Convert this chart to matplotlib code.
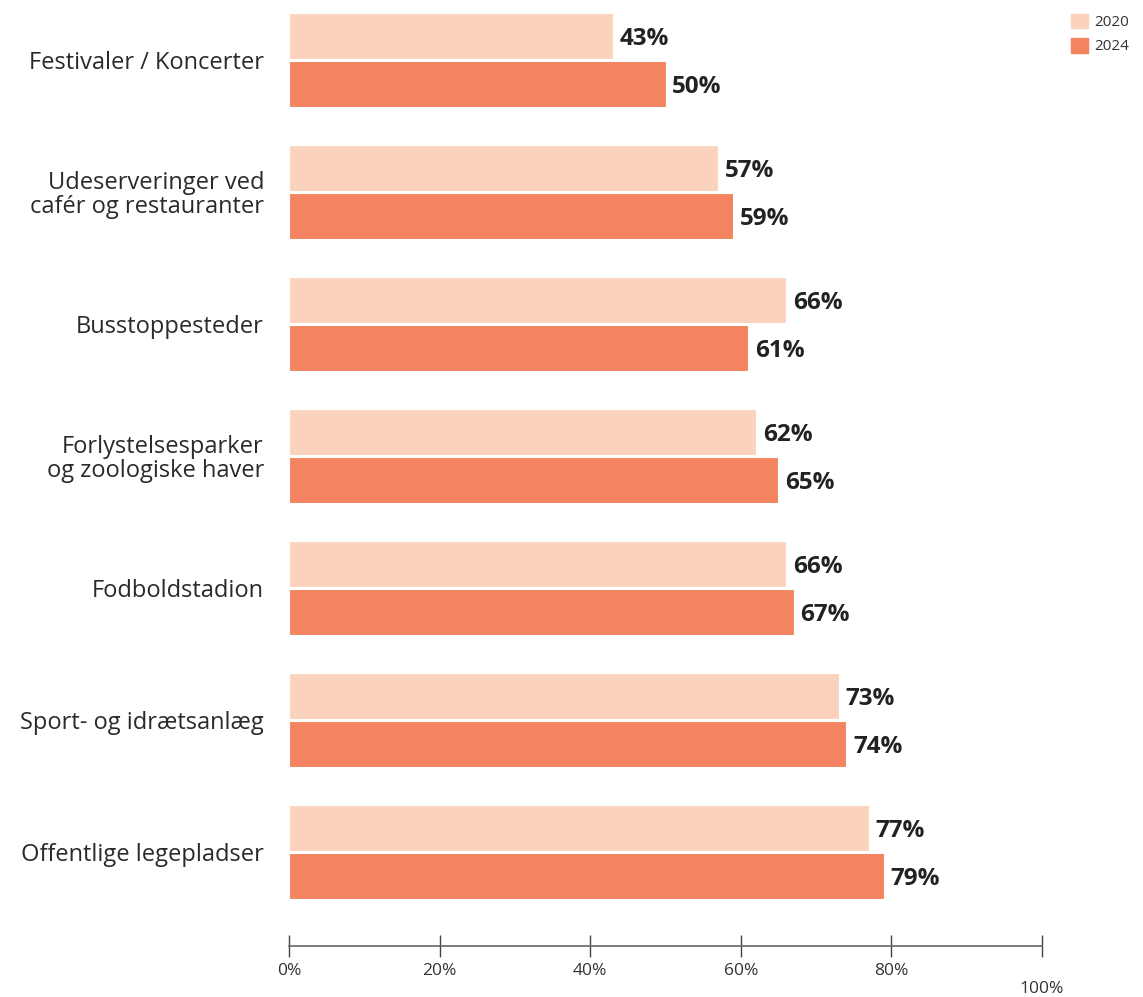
import numpy as np
import matplotlib
matplotlib.use("Agg")
import matplotlib.pyplot as plt
from matplotlib.patches import Patch

plt.rcParams['font.family'] = ['Open Sans', 'DejaVu Sans']

categories = ["Festivaler / Koncerter",
              "Udeserveringer ved\ncafér og restauranter",
              "Busstoppesteder",
              "Forlystelsesparker\nog zoologiske haver",
              "Fodboldstadion",
              "Sport- og idrætsanlæg",
              "Offentlige legepladser"]
vals_2020 = [43, 57, 66, 62, 66, 73, 77]
vals_2024 = [50, 59, 61, 65, 67, 74, 79]
series = ["2020", "2024"]
xticks = [0, 20, 40, 60, 80, 100]
xticklabels = ["0%", "20%", "40%", "60%", "80%", "\n100%"]

c2020 = "#FBD3BD"
c2024 = "#F4845F"

fig = plt.figure(figsize=(11.43, 9.97), dpi=100)
ax = fig.add_axes([289/1143, 51/997, (1042-289)/1143, 946/997])

y = np.arange(len(categories))
h = 0.345
off = 0.182
ax.barh(y - off, vals_2020, height=h, color=c2020, edgecolor="white", linewidth=0.8)
ax.barh(y + off, vals_2024, height=h, color=c2024, edgecolor="white", linewidth=0.8)

for i in range(len(categories)):
    ax.text(vals_2020[i] + 0.9, y[i] - off + 0.02, f"{vals_2020[i]}%", va="center", ha="left",
            fontsize=17.5, fontweight="bold", color="#222222")
    ax.text(vals_2024[i] + 0.9, y[i] + off + 0.02, f"{vals_2024[i]}%", va="center", ha="left",
            fontsize=17.5, fontweight="bold", color="#222222")

ax.set_xlim(0, 100)
ax.set_ylim(6 + 0.712, -0.4545)
ax.set_yticks(y)
ax.set_yticklabels(categories, fontsize=17, color="#2a2a2a", linespacing=1.0)
ax.tick_params(axis="y", length=0, pad=18)
ax.set_xticks(xticks)
ax.set_xticklabels(xticklabels, fontsize=12.5, color="#333333")
ax.tick_params(axis="x", direction="inout", length=16, width=1, color="#444444", pad=4)

for s in ["top", "right", "left"]:
    ax.spines[s].set_visible(False)
ax.spines["bottom"].set_color("#666666")
ax.spines["bottom"].set_linewidth(1.2)

handles = [Patch(color=c2020, label=series[0]), Patch(color=c2024, label=series[1])]
fig.legend(handles=handles, loc="upper right", bbox_to_anchor=(1.0, 1.0), frameon=False,
           handlelength=1.1, handleheight=1.1, handletextpad=0.4,
           labelspacing=0.5, labelcolor="#333333", prop={"size": 11})

fig.savefig("out.png", dpi=100, facecolor="white")
